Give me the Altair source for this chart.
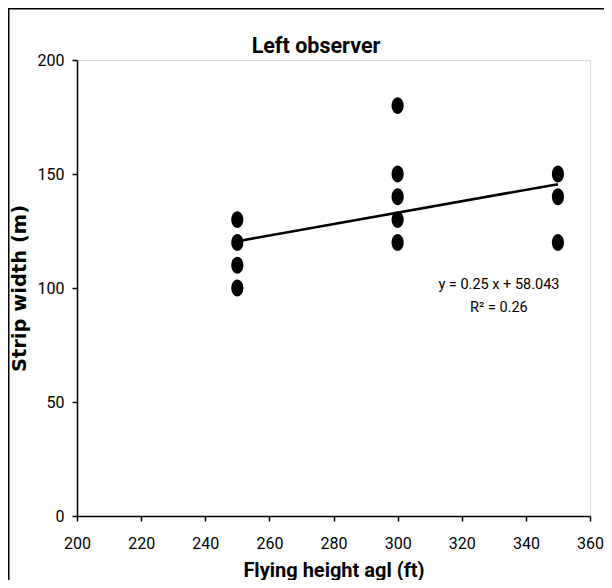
import altair as alt
import pandas as pd

# ---- data ----
heights = [250, 250, 250, 250, 300, 300, 300, 300, 300, 350, 350, 350]
widths = [100, 110, 120, 130, 120, 130, 140, 150, 180, 120, 140, 150]
slope = 0.25
intercept = 58.043
r_squared = 0.26
fit_range = [250, 350]
x_ticks = [200, 220, 240, 260, 280, 300, 320, 340, 360]
y_ticks = [0, 50, 100, 150, 200]
label_pos = [331.6, 99.6]
chart_title = ["Left observer"]

NARROW = "Roboto, Liberation Sans, sans-serif"

pts = pd.DataFrame({"h": heights, "w": widths})
fit = pd.DataFrame({"h": fit_range, "w": [slope * h + intercept for h in fit_range]})
eq = pd.DataFrame({
    "h": [label_pos[0]], "w": [label_pos[1]],
    "t": [[f"y = {slope} x + {intercept}", f"R\u00b2 = {r_squared}"]],
})
ttl = pd.DataFrame({"t": chart_title})

W, H = 513, 456

xscale = alt.Scale(domain=[200, 360], nice=False)
yscale = alt.Scale(domain=[0, 200], nice=False)

xaxis = alt.Axis(
    values=x_ticks, format="d", title="Flying height agl (ft)", grid=False,
    domainColor="black", domainWidth=1.5, tickColor="black", tickWidth=1.5, tickSize=5,
    labelFont=NARROW, labelFontSize=16, labelColor="black", labelPadding=14,
    labelFlush=False, labelOverlap=False, labelBound=False,
    titleFont=NARROW, titleFontSize=20, titleFontWeight="bold", titleColor="black",
    titleBaseline="alphabetic", titleY=60,
)
yaxis = alt.Axis(
    values=y_ticks, format="d", title="Strip width (m)", grid=False,
    domainColor="black", domainWidth=1.5, tickColor="black", tickWidth=1.5, tickSize=5,
    labelFont=NARROW, labelFontSize=16, labelColor="black", labelPadding=8,
    labelOverlap=False, labelBound=False, labelFlush=False,
    titleFont="DejaVu Sans", titleFontSize=19.5, titleFontWeight="bold", titleColor="black",
    titleAngle=270, titleBaseline="alphabetic", titleAlign="center", titleX=-52, titleY=H / 2,
)

frame = alt.Chart(alt.Data(values=[{}])).mark_rect(
    fill=None, stroke="black", strokeWidth=1.5, clip=False
).encode(
    x=alt.value(-68.25), x2=alt.value(W + 60), y=alt.value(-51.25), y2=alt.value(H + 120)
)

title = alt.Chart(ttl).mark_text(
    font=NARROW, fontSize=21.5, fontWeight="bold", color="black",
    align="center", baseline="alphabetic",
).encode(x=alt.value(239), y=alt.value(-7.5), text="t:N")

points = alt.Chart(pts).mark_point(
    shape="M0,-1 A0.72,1 0 1,1 0,1 A0.72,1 0 1,1 0,-1 Z",
    filled=True, color="black", opacity=1, size=285,
).encode(
    x=alt.X("h:Q", scale=xscale, axis=xaxis),
    y=alt.Y("w:Q", scale=yscale, axis=yaxis),
)

line = alt.Chart(fit).mark_line(color="black", strokeWidth=2.6).encode(
    x=alt.X("h:Q", scale=xscale), y=alt.Y("w:Q", scale=yscale)
)

label = alt.Chart(eq).mark_text(
    font=NARROW, fontSize=14.5, color="black", align="center", baseline="alphabetic",
    lineHeight=23,
).encode(
    x=alt.X("h:Q", scale=xscale), y=alt.Y("w:Q", scale=yscale), text="t:N"
)

chart = alt.layer(frame, title, points, line, label).properties(
    width=W, height=H,
    autosize=alt.AutoSizeParams(type="none"),
    padding={"left": 69, "top": 52, "right": 14, "bottom": 64},
).configure_view(stroke=None).configure(background="white")

chart.save("out.html", embed_options={"renderer": "svg", "actions": False})
